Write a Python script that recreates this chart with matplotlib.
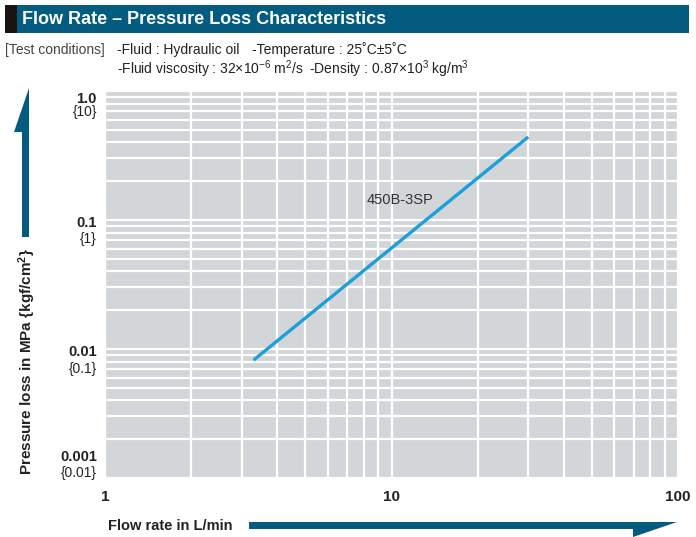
import numpy as np
import matplotlib
matplotlib.use('Agg')
import matplotlib.pyplot as plt
from matplotlib.patches import Rectangle, Polygon
from matplotlib.transforms import blended_transform_factory

plt.rcParams['font.family'] = ['Liberation Sans', 'DejaVu Sans']
plt.rcParams['mathtext.fontset'] = 'custom'
plt.rcParams['mathtext.rm'] = 'Liberation Sans'
plt.rcParams['mathtext.it'] = 'Liberation Sans:italic'
plt.rcParams['mathtext.bf'] = 'Liberation Sans:bold'

# Data
flow = [3.3, 30]            # L/min
pressure = [0.0082, 0.44]   # MPa
series_name = '450B-3SP'

y_ticks = [1.0, 0.1, 0.01, 0.001]
y_labels = ['1.0', '0.1', '0.01', '0.001']
y_labels_kgf = ['{10}', '{1}', '{0.1}', '{0.01}']
x_ticks = [1, 10, 100]
x_labels = ['1', '10', '100']

W, H = 696, 537
BLUE = '#045b80'
GRAY_BG = '#d3d6d8'

fig = plt.figure(figsize=(W / 100, H / 100), dpi=100)


def fx(px):
    return px / W


def fy(py):
    return 1 - py / H


# Header bar
fig.add_artist(Rectangle((fx(5), fy(33)), fx(689) - fx(5), fy(5) - fy(33),
                         transform=fig.transFigure, color=BLUE, lw=0))
fig.add_artist(Rectangle((fx(5), fy(33)), fx(17) - fx(5), fy(5) - fy(33),
                         transform=fig.transFigure, color='#1b1311', lw=0))
fig.text(fx(22), fy(19.5), 'Flow Rate – Pressure Loss Characteristics',
         color='white', fontsize=13, fontweight='bold', va='center', ha='left')

# Test conditions
fig.text(fx(5), fy(50), '[Test conditions]', fontsize=10, color='#444444', va='center')
fig.text(fx(117), fy(50), '-Fluid : Hydraulic oil', fontsize=10, color='#222222', va='center')
fig.text(fx(252), fy(50), '-Temperature : 25˚C±5˚C', fontsize=10, color='#222222', va='center')
fig.text(fx(117), fy(69), r'-Fluid viscosity : 32×10$^{-6}$ m$^{2}$/s', fontsize=10,
         color='#222222', va='center')
fig.text(fx(309), fy(69), r'-Density : 0.87×10$^{3}$ kg/m$^{3}$', fontsize=10,
         color='#222222', va='center')

# Plot area
ax = fig.add_axes([fx(105), fy(478), fx(678) - fx(105), fy(91) - fy(478)])
ax.set_xscale('log')
ax.set_yscale('log')
ax.set_xlim(1, 100)
ax.set_ylim(0.001, 1.0)
ax.set_facecolor(GRAY_BG)
for s in ax.spines.values():
    s.set_visible(False)
ax.grid(True, which='both', color='white', lw=1.6)
ax.set_axisbelow(True)
ax.tick_params(which='both', length=0, labelleft=False, labelbottom=False)

ax.plot(flow, pressure, color='#1d9fda', lw=2.4, solid_capstyle='butt')
ax.text(10.7, 0.143, series_name, fontsize=10.5, color='#333333', ha='center', va='center')

# Y tick labels (MPa bold, kgf/cm2 regular below)
tr = blended_transform_factory(ax.transAxes, ax.transData)
offsets = [(-1, -10), (3, -9), (3, -9), (20, 9)]
for v, lab, lab2, (d1, d2) in zip(y_ticks, y_labels, y_labels_kgf, offsets):
    ax.annotate(lab, (-0.014, v), xycoords=tr, xytext=(0, d1), textcoords='offset points',
                ha='right', va='top', fontsize=10.5, fontweight='bold', color='#222222',
                annotation_clip=False)
    ax.annotate(lab2, (-0.014, v), xycoords=tr, xytext=(0, d2), textcoords='offset points',
                ha='right', va='top', fontsize=10, color='#222222',
                annotation_clip=False)

# X tick labels
trx = blended_transform_factory(ax.transData, ax.transAxes)
for v, lab in zip(x_ticks, x_labels):
    ax.text(v, -0.03, lab, transform=trx, ha='center', va='top', fontsize=11,
            fontweight='bold', color='#222222', clip_on=False)

# Axis titles
fig.text(fx(108), fy(525.5), 'Flow rate in L/min', fontsize=10.5, fontweight='bold',
         color='#222222', va='center', ha='left')
fig.text(fx(27), fy(362), r'Pressure loss in MPa {kgf/cm$^{\mathbf{2}}$}', fontsize=11,
         fontweight='bold', color='#222222', va='center', ha='center', rotation=90)

# Arrows
up = [(22, 237), (29, 237), (29, 88), (14, 132), (22, 132)]
right = [(249, 522), (677, 522), (633, 537), (633, 529), (249, 529)]
for pts in (up, right):
    fig.add_artist(Polygon([(fx(a), fy(b)) for a, b in pts], closed=True,
                           transform=fig.transFigure, color=BLUE, lw=0))

fig.savefig('out.png', dpi=100)
